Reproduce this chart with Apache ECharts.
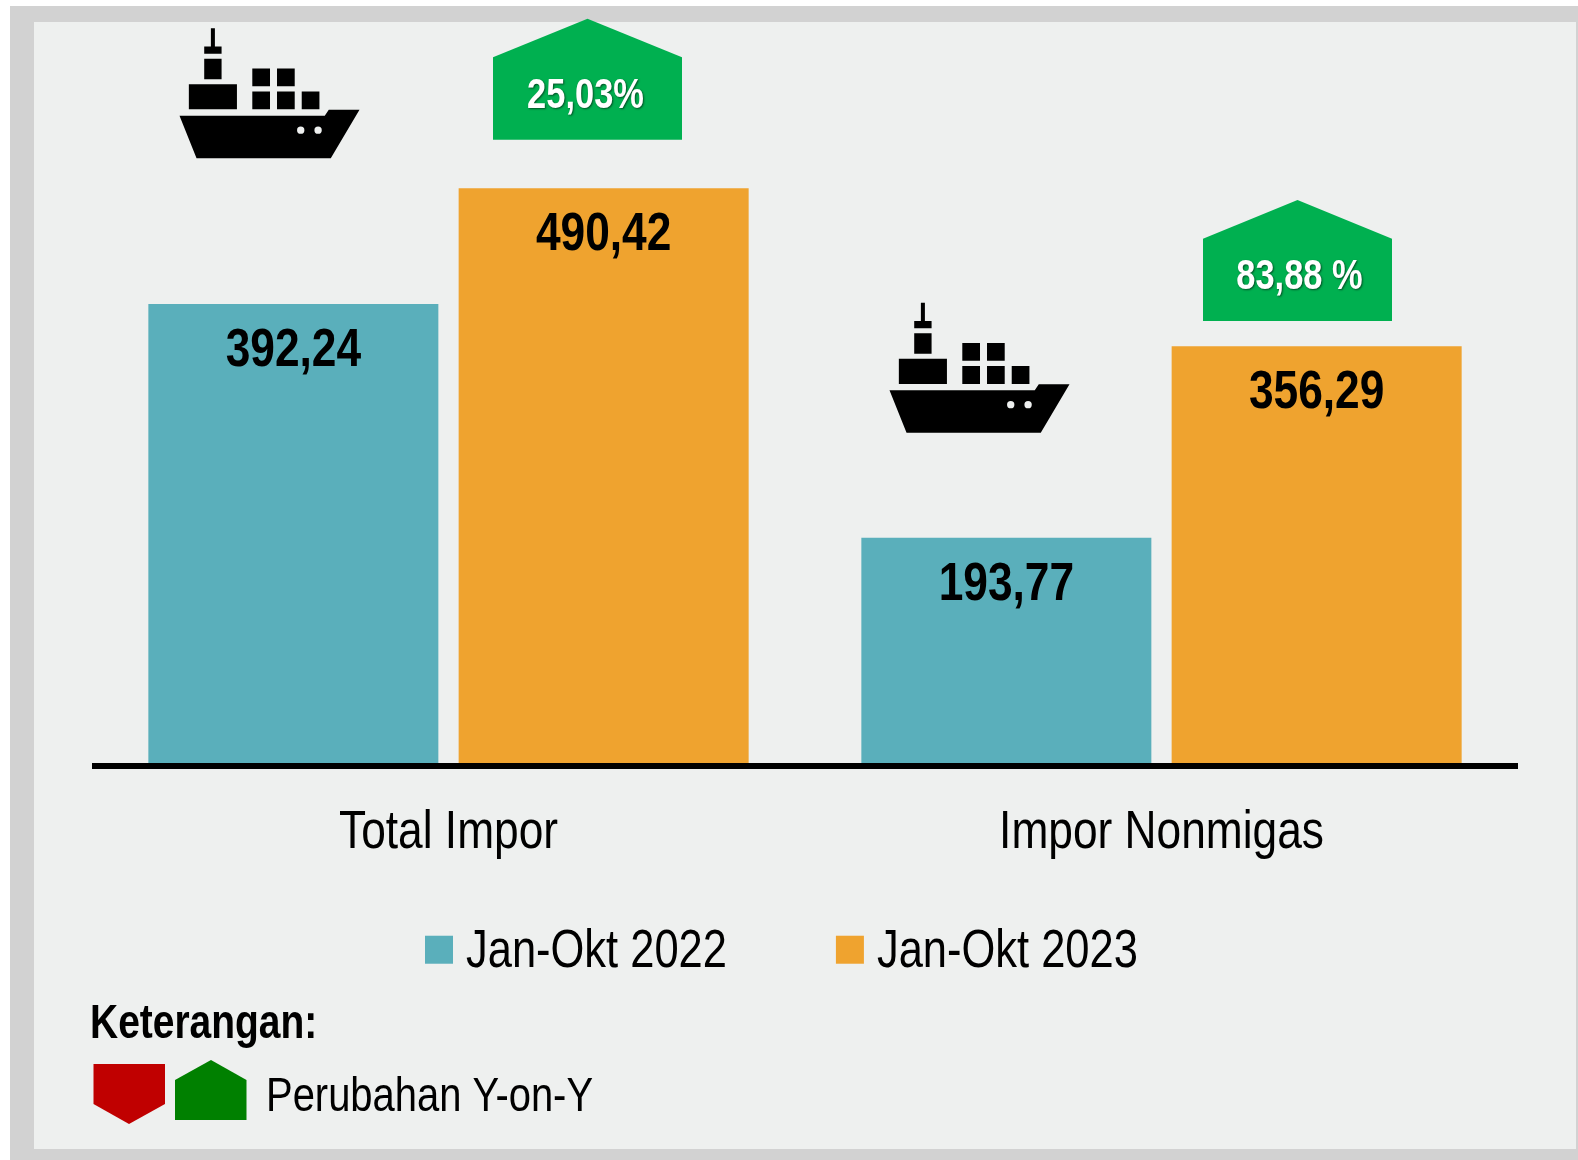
<!DOCTYPE html>
<html><head><meta charset="utf-8">
<style>html,body{margin:0;padding:0;background:#fff}#c{width:1578px;height:1160px}</style>
<script src="https://cdn.jsdelivr.net/npm/echarts@6/dist/echarts.min.js"></script>
</head><body><div id="c"></div>
<script>
const categories = ['Total Impor', 'Impor Nonmigas'];
const seriesNames = ['Jan-Okt 2022', 'Jan-Okt 2023'];
const values2022 = [392.24, 193.77];
const values2023 = [490.42, 356.29];
const changeLabels = ['25,03%', '83,88 %'];
const changeHeights = [583, 429];
const shipHeights = [571, 338];

// No narrow font is installed: condense Liberation Sans horizontally when drawing and measuring.
const NARROW = 0.82;
const proto = CanvasRenderingContext2D.prototype;
const origFill = proto.fillText, origMeasure = proto.measureText;
proto.fillText = function (t, x, y, w) {
  this.save(); this.translate(x, y); this.scale(NARROW, 1);
  if (w === undefined) origFill.call(this, t, 0, 0); else origFill.call(this, t, 0, 0, w / NARROW);
  this.restore();
};
proto.measureText = function (t) {
  const m = origMeasure.call(this, t);
  return {width:m.width * NARROW, actualBoundingBoxAscent:m.actualBoundingBoxAscent, actualBoundingBoxDescent:m.actualBoundingBoxDescent,
    actualBoundingBoxLeft:m.actualBoundingBoxLeft * NARROW, actualBoundingBoxRight:m.actualBoundingBoxRight * NARROW,
    fontBoundingBoxAscent:m.fontBoundingBoxAscent, fontBoundingBoxDescent:m.fontBoundingBoxDescent};
};

const FONT = '"Liberation Sans",Arial,sans-serif';
const fmt = v => v.toFixed(2).replace('.', ',');
const SHIP = 'path://M27,287 L462,287 L474,269 L566,269 L480,414 L78,414 Z M379,330 a11,11 0 1,0 22,0 a11,11 0 1,0 -22,0 Z M431,330 a11,11 0 1,0 22,0 a11,11 0 1,0 -22,0 Z ' +
  'M55,193 H199 V268 H55 Z M245,146 H298 V199 H245 Z M319,146 H372 V199 H319 Z M245,215 H298 V268 H245 Z M319,215 H372 V268 H319 Z M393,215 H446 V268 H393 Z M101,117 H153 V178 H101 Z M101,80 H153 V102 H101 Z M121,26 H133 V85 H121 Z';
const UP = 'path://M0,32 L50,0 L100,32 L100,100 L0,100 Z';
const barLabel = {show:true, position:'insideTop', distance:25, color:'#000', fontFamily:FONT, fontWeight:'bold', fontSize:54, formatter:p=>fmt(p.value)};
const option = {
  animation:false,
  graphic:[
    {type:'rect', z:0, shape:{x:10,y:6,width:1568,height:1154}, style:{fill:'#D2D2D2'}},
    {type:'rect', z:0, shape:{x:34,y:22,width:1542,height:1127}, style:{fill:'#EEF0EF'}},
    {type:'text', z:3, left:90, top:1005, style:{text:'Keterangan:', fontFamily:FONT, fontWeight:'bold', fontSize:47.5, fill:'#000'}},
    {type:'polygon', z:3, shape:{points:[[93.5,1064],[165,1064],[165,1104],[129,1124],[93.5,1104]]}, style:{fill:'#C00000'}},
    {type:'polygon', z:3, shape:{points:[[175,1080],[211,1060],[246.5,1080],[246.5,1120],[175,1120]]}, style:{fill:'#008000'}},
    {type:'text', z:3, left:266, top:1077, style:{text:'Perubahan Y-on-Y', fontFamily:FONT, fontSize:48.7, fill:'#000'}}
  ],
  legend:{left:420, top:926, data:seriesNames, icon:'rect', itemWidth:28, itemHeight:28, itemGap:109,
    formatter:'{t|{name}}',
    textStyle:{fontFamily:FONT, fontSize:53, color:'#000', rich:{t:{fontFamily:FONT, fontSize:53, color:'#000', padding:[6,0,0,8]}}}},
  grid:{left:92, right:60, top:12, bottom:394},
  xAxis:{type:'category', data:categories, z:5, axisTick:{show:false},
    axisLine:{lineStyle:{color:'#000', width:6, cap:'butt'}},
    axisLabel:{color:'#000', fontFamily:FONT, fontSize:54, margin:45}},
  yAxis:{type:'value', min:0, max:640, show:false, splitLine:{show:false}},
  series:[
    {name:seriesNames[0], type:'bar', data:values2022, barWidth:290, barGap:'7%', itemStyle:{color:'#5AAFBB'}, label:barLabel, z:2},
    {name:seriesNames[1], type:'bar', data:values2023, barWidth:290, barGap:'7%', itemStyle:{color:'#EFA32F'}, label:barLabel, z:2},
    {name:'ship', type:'scatter', clip:false, symbol:SHIP, symbolSize:[180,130], symbolKeepAspect:false,
      itemStyle:{color:'#000', opacity:1}, silent:true,
      data:categories.map((c,i)=>({value:[c,shipHeights[i]], symbolOffset:[i===0?-179:-182,0]}))},
    {name:'change', type:'scatter', clip:false, symbol:UP, symbolSize:[189,121], itemStyle:{color:'#00B050', opacity:1}, silent:true,
      data:categories.map((c,i)=>({value:[c,changeHeights[i]], symbolOffset:[i===0?139:136,0],
        label:{show:true, position:'inside', offset:[i===0?-2:2,17], formatter:changeLabels[i], color:'#fff',
          fontFamily:FONT, fontWeight:'bold', fontSize:42, textShadowColor:'rgba(0,0,0,0.55)', textShadowBlur:2, textShadowOffsetX:1, textShadowOffsetY:1}}))}
  ]
};
const chart = echarts.init(document.getElementById('c'), null, {renderer:'canvas'});
chart.setOption(option);
</script></body></html>
